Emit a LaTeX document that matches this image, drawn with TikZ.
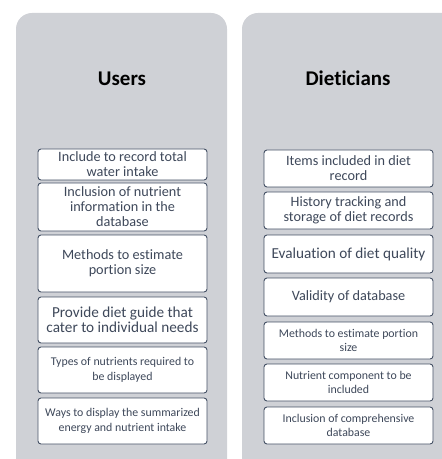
\documentclass[tikz,border=0pt]{standalone}
\usepackage{fontspec}
\setmainfont{Carlito}[Ligatures=NoCommon]
\usepackage{tikz}
\definecolor{panelgrey}{RGB}{207,209,214}
\definecolor{boxline}{RGB}{68,80,100}
\definecolor{boxtext}{RGB}{62,72,90}
\tikzset{
	panel/.style={fill=panelgrey, rounded corners=16bp},
	heading/.style={anchor=base, font=\fontsize{21}{25}\selectfont\bfseries},
	item/.style={draw=boxline, line width=0.9bp, fill=white, rounded corners=3bp, minimum width=169bp, inner sep=0pt, align=center, text=boxtext},
	bigtxt/.style={font=\fontsize{15.3}{15.5}\selectfont},
	midtxt/.style={font=\fontsize{14.3}{15}\selectfont},
	smalltxt/.style={font=\fontsize{11.9}{14.5}\selectfont}
}

\begin{document}
\begin{tikzpicture}[x=1bp,y=-1bp]
		\useasboundingbox (0,0) rectangle (442,459);
		\clip (0,0) rectangle (442,459);
		\fill[panel] (16,13) rectangle (227,480);
		\fill[panel] (242,13) rectangle (458,480);
		\node[heading] (users) at (122,86){Users};
		\node[heading] (dieticians) at (348,86){Dieticians};
		% users
		\node[item, midtxt, minimum height=31bp] (u1) at (122.5,164.5){Include to record total\\water intake};
		\node[item, midtxt, minimum height=48bp] (u2) at (122.5,207){Inclusion of nutrient\\information in the\\database};
		\node[item, midtxt, minimum height=57bp] (u3) at (122.5,263.5){Methods to estimate\\portion size};
		\node[item, bigtxt, minimum height=46bp] (u4) at (122.5,320){Provide diet guide that\\cater to individual needs};
		\node[item, smalltxt, minimum height=46bp] (u5) at (122.5,370){Types of nutrients required to\\be displayed};
		\node[item, smalltxt, minimum height=46bp] (u6) at (122.5,421){Ways to display the summarized\\energy and nutrient intake};
		% dieticians
		\node[item, midtxt, minimum height=37bp] (d1) at (348.5,168.5){Items included in diet\\record};
		\node[item, midtxt, minimum height=37bp] (d2) at (348.5,210.5){History tracking and\\storage of diet records};
		\node[item, bigtxt, minimum height=38bp] (d3) at (348.5,254){Evaluation of diet quality};
		\node[item, midtxt, minimum height=38bp] (d4) at (348.5,297){Validity of database};
		\node[item, smalltxt, minimum height=37bp] (d5) at (348.5,340.5){Methods to estimate portion\\size};
		\node[item, smalltxt, minimum height=37bp] (d6) at (348.5,382.5){Nutrient component to be\\included};
		\node[item, smalltxt, minimum height=37bp] (d7) at (348.5,425.5){Inclusion of comprehensive\\database};
	\end{tikzpicture}
\end{document}
